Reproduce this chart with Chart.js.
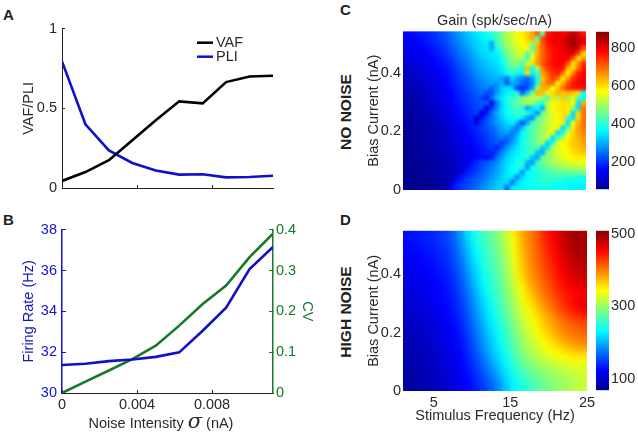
<!DOCTYPE html>
<html>
<head>
<meta charset="utf-8">
<title>Gain panels</title>
<script src="https://cdn.jsdelivr.net/npm/chart.js@4/dist/chart.umd.min.js"></script>
<style>
  html, body { margin: 0; padding: 0; background: #fff; }
  #page { position: relative; width: 638px; height: 432px; overflow: hidden; font-family: "Liberation Sans", Arial, sans-serif; color: #222; }
  #page canvas { position: absolute; filter: blur(0.4px); }
  .note { position: absolute; white-space: nowrap; line-height: 1; }
  .letter { font-weight: bold; font-size: 15px; }
  .side { font-weight: bold; font-size: 15.5px; transform: translate(-50%, -50%) rotate(-90deg); }
  .xname { font-size: 14.5px; transform: translateX(-50%); color: #2a2a2a; }
  .xname i { font-family: "DejaVu Serif", serif; font-size: 21px; line-height: 14px; }
</style>
</head>
<body>
<div id="page">
  <canvas id="chartA" style="left:20px;top:12px"></canvas>
  <canvas id="chartB" style="left:20px;top:212px"></canvas>
  <canvas id="chartC" style="left:365px;top:12px"></canvas>
  <canvas id="barC" style="left:596px;top:21px"></canvas>
  <canvas id="chartD" style="left:365px;top:220px"></canvas>
  <canvas id="barD" style="left:596px;top:220px"></canvas>
  <div class="note letter" style="left:3px;top:7px">A</div>
  <div class="note letter" style="left:3px;top:212px">B</div>
  <div class="note letter" style="left:340px;top:2px">C</div>
  <div class="note letter" style="left:340px;top:212px">D</div>
  <div class="note side" style="left:346px;top:112px">NO NOISE</div>
  <div class="note side" style="left:346px;top:312px">HIGH NOISE</div>
  <div class="note xname" style="left:161px;top:414px">Noise Intensity <i>σ</i> (nA)</div>
</div>
<script>
// noise intensity samples shared by panels A and B
var noiseLevels = [0, 0.00125, 0.0025, 0.00375, 0.005, 0.00625, 0.0075, 0.00875, 0.01, 0.01125];
var vafValues = [0.044, 0.10, 0.174, 0.30, 0.425, 0.544, 0.531, 0.665, 0.70, 0.705];
var pliValues = [0.795, 0.40, 0.236, 0.157, 0.11, 0.084, 0.086, 0.067, 0.069, 0.077];
var firingRates = [31.37, 31.43, 31.56, 31.64, 31.77, 31.99, 33.05, 34.18, 36.07, 37.15];
var cvValues = [0, 0.028, 0.055, 0.083, 0.116, 0.165, 0.218, 0.263, 0.333, 0.39];

// tick values and labels
var noiseTicks = [0, 0.004, 0.008];
var noiseTickLabels = ['0', '0.004', '0.008'];
var vafTicks = [0, 0.5, 1];
var vafTickLabels = ['0', '0.5', '1'];
var rateTicks = [30, 32, 34, 36, 38];
var rateTickLabels = ['30', '32', '34', '36', '38'];
var cvTicks = [0, 0.1, 0.2, 0.3, 0.4];
var cvTickLabels = ['0', '0.1', '0.2', '0.3', '0.4'];
var biasTicks = [0, 0.2, 0.4];
var biasTickLabels = ['0', '0.2', '0.4'];
var freqTicks = [5, 15, 25];
var freqTickLabels = ['5', '15', '25'];
var gainTicksC = [200, 400, 600, 800];
var gainTicksD = [100, 300, 500];

// panel C gain, rows run from top (high bias) to bottom, columns low to high frequency
var gainNoNoise = [
  [165,170,175,180,185,195,205,220,235,255,275,295,315,335,350,365,380,400,430,470,510,540,560,585,610,650,700,440,760,780,800,780,800,830,800,760],
  [155,160,165,170,180,190,200,215,230,245,265,285,305,325,340,355,370,385,410,470,500,530,560,580,610,640,430,720,770,790,790,800,830,850,830,800],
  [150,155,160,165,175,185,195,205,220,240,260,280,295,315,330,345,355,290,420,460,500,530,555,575,590,480,620,710,760,780,790,800,840,860,830,790],
  [145,150,155,160,165,175,185,195,210,230,250,265,285,305,325,340,350,300,380,430,480,510,540,560,570,430,640,700,750,770,790,790,810,840,810,720],
  [135,140,145,155,160,170,180,190,200,220,240,260,275,295,315,330,340,350,360,410,460,500,520,550,430,530,640,700,740,770,780,790,810,800,730,600],
  [125,130,140,145,155,160,170,180,195,210,230,250,265,285,305,320,335,345,350,390,440,480,510,500,420,560,650,700,740,770,780,790,790,720,590,650],
  [120,125,130,140,145,155,165,175,185,200,220,240,255,275,295,310,325,335,345,370,420,460,480,420,520,600,660,710,750,770,780,780,720,600,670,740],
  [110,115,125,130,140,145,155,165,175,190,210,230,245,265,285,300,315,325,335,350,400,440,430,400,620,380,500,680,730,760,770,760,640,600,690,760],
  [105,110,115,125,130,140,150,160,170,185,200,220,235,255,275,290,305,315,325,340,380,400,380,360,600,360,420,650,700,740,760,690,580,680,760,780],
  [100,105,110,115,125,135,145,155,165,180,195,210,225,245,265,280,295,305,310,300,260,340,300,270,250,300,380,620,680,730,700,590,650,740,770,790],
  [95,100,105,110,120,130,140,150,160,175,190,205,220,235,255,270,285,295,280,310,230,300,290,250,230,270,400,640,690,690,590,640,720,760,780,790],
  [90,95,100,105,115,125,135,145,155,170,185,200,215,230,245,260,270,240,280,330,350,330,215,190,220,300,500,650,640,560,620,700,740,760,770,770],
  [85,90,95,100,110,120,130,140,150,165,180,195,205,220,235,250,225,230,290,330,360,380,400,240,330,470,640,620,550,600,640,620,640,620,600,380],
  [80,85,90,95,105,115,125,135,145,160,175,190,200,215,230,215,195,250,320,350,380,400,430,470,500,520,520,480,420,600,500,620,480,590,420,370],
  [80,80,85,90,100,110,120,130,140,155,170,185,195,210,220,235,240,130,260,340,380,420,450,480,510,500,420,400,520,560,590,600,600,570,340,640],
  [75,80,85,90,100,105,115,125,135,150,165,180,190,205,220,220,125,210,270,340,380,400,430,400,300,340,380,300,530,560,590,600,590,480,340,680],
  [75,75,80,85,95,100,110,120,130,145,160,175,185,200,210,130,180,250,300,340,370,390,410,420,400,340,280,440,510,550,580,600,590,340,600,690],
  [70,75,80,85,90,100,105,115,125,140,155,170,180,195,125,170,220,250,290,330,360,380,390,360,280,270,440,480,520,550,580,600,400,340,600,690],
  [70,70,75,80,90,95,105,110,120,135,150,165,175,185,130,200,230,260,290,310,340,360,310,220,300,420,450,490,520,550,570,590,340,560,640,690],
  [70,70,75,80,85,90,100,105,115,130,145,155,170,180,195,210,225,240,270,300,320,300,250,320,400,430,470,500,530,560,580,340,420,590,650,680],
  [68,70,75,80,85,90,95,105,110,125,140,150,165,175,190,200,215,235,255,280,290,260,290,370,410,440,470,500,530,560,340,380,560,610,650,670],
  [65,70,70,75,80,90,95,100,110,120,135,145,160,170,180,195,210,225,240,265,240,270,320,370,400,430,470,500,530,340,430,500,570,610,640,660],
  [65,68,70,75,80,85,90,100,105,115,130,140,155,165,175,190,200,220,235,215,240,290,330,380,410,440,470,500,330,370,540,570,590,620,630,650],
  [65,65,70,72,78,85,90,95,105,110,125,135,150,160,170,185,195,210,190,230,280,320,350,380,400,420,440,330,350,520,550,570,590,610,620,640],
  [65,65,68,70,75,80,85,95,100,110,120,130,145,155,165,180,190,190,210,270,310,340,360,380,400,420,320,300,480,510,540,560,580,600,610,620],
  [62,65,65,70,75,80,85,90,95,105,115,130,140,150,160,175,170,190,250,290,330,350,370,390,410,320,300,450,480,510,530,550,570,580,590,590],
  [62,62,65,68,72,78,82,88,95,100,115,125,135,165,195,215,230,250,270,310,340,360,380,400,310,290,420,450,480,500,520,530,540,550,550,560],
  [60,62,65,68,70,75,80,85,90,100,110,120,150,185,205,225,245,265,290,320,350,370,390,380,280,390,410,430,450,470,480,490,500,510,510,520],
  [60,60,62,65,70,72,78,85,90,95,105,125,180,200,215,235,255,270,295,320,350,370,370,270,370,380,400,410,420,430,440,450,450,460,460,470],
  [60,60,62,65,68,72,75,82,88,95,130,180,200,215,230,245,265,285,305,330,350,350,260,340,370,380,390,400,410,420,420,410,400,400,390,390],
  [60,60,60,62,65,70,72,78,85,100,175,195,210,225,240,255,275,295,315,335,345,245,340,360,370,380,390,400,400,390,380,380,370,370,370,370],
  [60,60,60,60,62,65,70,75,80,160,190,205,220,235,250,270,290,310,330,340,240,350,360,365,370,375,380,385,385,380,375,370,365,365,360,360]
];

// panel D gain, same orientation
var gainHighNoise = [
  [130,132,136,140,145,152,165,190,222,245,262,278,292,320,350,378,398,415,440,455,470,485,495,490],
  [127,130,134,138,143,150,162,185,215,240,258,275,290,315,345,375,396,412,436,452,468,482,492,490],
  [124,127,131,135,140,147,158,180,208,234,252,270,286,310,342,372,394,410,432,448,464,478,490,492],
  [120,123,127,131,136,143,154,175,202,228,248,266,282,306,338,368,392,408,428,445,460,474,484,488],
  [117,120,124,128,133,140,150,170,196,222,244,262,279,302,334,364,390,405,424,440,456,470,480,484],
  [113,117,120,125,130,137,146,165,190,216,240,258,275,298,330,360,386,402,420,436,452,466,475,480],
  [110,114,118,122,127,134,143,160,184,210,235,254,272,294,324,354,380,398,414,430,446,458,468,472],
  [107,111,115,119,125,131,140,156,178,204,230,250,268,290,318,346,372,392,408,424,440,452,460,464],
  [104,108,112,116,122,129,137,152,173,198,224,244,264,286,312,338,362,384,402,418,432,444,452,456],
  [101,105,109,113,119,126,134,149,168,192,218,238,260,282,306,332,354,374,394,410,428,442,455,462],
  [98,102,106,110,116,123,131,145,164,187,212,232,254,276,300,324,346,364,384,400,418,432,445,455],
  [95,99,103,107,113,120,128,141,160,182,206,228,248,270,294,316,336,354,372,388,404,418,428,434],
  [92,96,100,104,110,117,125,137,155,177,200,222,242,264,288,310,330,348,366,382,394,406,414,418],
  [90,94,98,102,108,114,122,133,151,172,195,216,237,258,282,304,322,340,356,372,386,398,406,410],
  [88,91,95,99,105,112,119,130,147,167,190,210,232,252,276,298,316,330,346,360,374,386,394,398],
  [86,89,93,97,103,110,117,127,143,162,184,204,226,247,270,292,308,322,336,346,356,368,376,380],
  [84,87,91,95,101,107,114,125,139,157,178,198,220,240,262,284,298,312,324,334,342,348,352,354],
  [82,85,89,93,99,105,112,122,135,150,170,190,212,234,254,274,288,300,310,318,324,330,334,336],
  [80,83,87,91,97,103,110,119,130,145,162,180,202,226,244,262,276,286,296,304,310,316,322,326],
  [79,81,85,90,96,101,108,116,127,140,155,172,192,218,238,252,266,276,286,294,300,306,314,320],
  [78,80,85,90,95,100,108,115,125,135,150,165,185,210,232,245,258,270,280,290,300,305,315,320]
];

var INK = '#2a2a2a';
var BLUE = '#1414c8';
var GREEN = '#17792a';
var FONT = { family: '"Liberation Sans", Arial, sans-serif', size: 14.5 };

// jet colormap, t in 0..1
var jetStops = [
  [0, [0, 0, 143]], [0.125, [0, 0, 255]], [0.375, [0, 255, 255]],
  [0.625, [255, 255, 0]], [0.875, [255, 0, 0]], [1, [128, 0, 0]]
];
function jet(t) {
  t = Math.max(0, Math.min(1, t));
  for (var i = 1; i < jetStops.length; i++) {
    if (t <= jetStops[i][0]) {
      var a = jetStops[i - 1], b = jetStops[i];
      var f = (t - a[0]) / (b[0] - a[0]);
      return 'rgb(' + [0, 1, 2].map(function(k) { return Math.round(a[1][k] + (b[1][k] - a[1][k]) * f); }).join(',') + ')';
    }
  }
  return 'rgb(128,0,0)';
}

// fixed size for an axis so the plot areas land where they should
function fixWidth(w) { return function(scale) { scale.width = w; }; }
function fixHeight(h) { return function(scale) { scale.height = h; }; }
function useTicks(values) {
  return function(scale) { scale.ticks = values.map(function(v) { return { value: v }; }); };
}
function useLabels(labels) {
  return function(value, index) { return labels[index]; };
}
function sizeCanvas(id, w, h) {
  var c = document.getElementById(id);
  c.width = w; c.height = h;
  c.style.width = w + 'px'; c.style.height = h + 'px';
  return c;
}

// small legend inside panel A, uses the dataset labels and colours
var cornerLegend = {
  id: 'cornerLegend',
  afterDatasetsDraw: function(chart) {
    var ctx = chart.ctx, area = chart.chartArea;
    chart.data.datasets.forEach(function(ds, i) {
      var y = area.top + 14 + i * 14;
      ctx.save();
      ctx.strokeStyle = ds.borderColor;
      ctx.lineWidth = 2.5;
      ctx.beginPath();
      ctx.moveTo(area.left + 135, y);
      ctx.lineTo(area.left + 151, y);
      ctx.stroke();
      ctx.fillStyle = INK;
      ctx.font = '14.5px ' + FONT.family;
      ctx.textBaseline = 'middle';
      ctx.fillText(ds.label, area.left + 154, y);
      ctx.restore();
    });
  }
};

// softens the cell edges of a heat map, limited to the plot area
function softenCells(radius) {
  return {
    id: 'softenCells',
    afterDatasetsDraw: function(chart) {
      var ctx = chart.ctx, area = chart.chartArea;
      ctx.save();
      ctx.beginPath();
      ctx.rect(area.left, area.top, area.right - area.left, area.bottom - area.top);
      ctx.clip();
      ctx.filter = 'blur(' + radius + 'px)';
      ctx.drawImage(ctx.canvas, 0, 0);
      ctx.restore();
    }
  };
}

function lineDataset(label, values, color, axis) {
  return {
    label: label,
    data: values.map(function(v, i) { return { x: noiseLevels[i], y: v }; }),
    borderColor: color,
    borderWidth: 2.6,
    pointRadius: 0,
    tension: 0,
    yAxisID: axis
  };
}

// panel A
new Chart(sizeCanvas('chartA', 300, 196), {
  type: 'line',
  data: { datasets: [lineDataset('VAF', vafValues, '#000000', 'y'), lineDataset('PLI', pliValues, '#1010c8', 'y')] },
  plugins: [cornerLegend],
  options: {
    responsive: false, animation: false, events: [],
    layout: { padding: { top: 16, right: 47, left: 0, bottom: 0 } },
    plugins: { legend: { display: false }, tooltip: { enabled: false } },
    scales: {
      x: {
        type: 'linear', min: 0, max: 0.01125,
        afterFit: fixHeight(20), afterBuildTicks: useTicks(noiseTicks),
        grid: { drawOnChartArea: false, tickLength: -3, tickColor: '#222' },
        border: { color: '#222', width: 1 },
        ticks: { display: false }
      },
      y: {
        min: 0, max: 1,
        afterFit: fixWidth(42), afterBuildTicks: useTicks(vafTicks),
        grid: { drawOnChartArea: false, tickLength: -3, tickColor: '#222' },
        border: { color: '#222', width: 1 },
        title: { display: true, text: 'VAF/PLI', color: INK, font: FONT, padding: 0 },
        ticks: { callback: useLabels(vafTickLabels), color: INK, font: FONT, padding: 8, autoSkip: false }
      }
    }
  }
});

// panel B
new Chart(sizeCanvas('chartB', 296, 204), {
  type: 'line',
  data: { datasets: [lineDataset('Firing Rate', firingRates, '#1010c8', 'y'), lineDataset('CV', cvValues, GREEN, 'y1')] },
  options: {
    responsive: false, animation: false, events: [],
    layout: { padding: { top: 15, right: 0, left: 0, bottom: 0 } },
    plugins: { legend: { display: false }, tooltip: { enabled: false } },
    scales: {
      x: {
        type: 'linear', min: 0, max: 0.01125,
        afterFit: fixHeight(23), afterBuildTicks: useTicks(noiseTicks),
        grid: { drawOnChartArea: false, tickLength: -3, tickColor: '#222' },
        border: { color: '#222', width: 1 },
        ticks: { callback: useLabels(noiseTickLabels), color: INK, font: FONT, padding: 6, maxRotation: 0, autoSkip: false }
      },
      y: {
        min: 30, max: 38,
        afterFit: fixWidth(42), afterBuildTicks: useTicks(rateTicks),
        grid: { drawOnChartArea: false, tickLength: -4, tickColor: BLUE },
        border: { color: BLUE, width: 1.5 },
        title: { display: true, text: 'Firing Rate (Hz)', color: BLUE, font: FONT, padding: 0 },
        ticks: { callback: useLabels(rateTickLabels), color: BLUE, font: FONT, padding: 9, autoSkip: false }
      },
      y1: {
        position: 'right', min: 0, max: 0.4,
        afterFit: fixWidth(43), afterBuildTicks: useTicks(cvTicks),
        grid: { drawOnChartArea: false, tickLength: -4, tickColor: GREEN },
        border: { color: GREEN, width: 1.5 },
        title: { display: true, text: 'CV', color: GREEN, font: FONT, padding: 0 },
        ticks: { callback: useLabels(cvTickLabels), color: GREEN, font: FONT, padding: 7, autoSkip: false }
      }
    }
  }
});

// one scatter point per heat map cell, square markers sized to just overlap
function heatDataset(rows, maxBias, low, high, radius) {
  var points = [], colors = [];
  rows.forEach(function(row, j) {
    row.forEach(function(v, i) {
      points.push({ x: 1 + 24 * (i + 0.5) / row.length, y: maxBias * (1 - (j + 0.5) / rows.length) });
      colors.push(jet((v - low) / (high - low)));
    });
  });
  return {
    data: points, showLine: false, pointStyle: 'rect', pointRadius: radius,
    pointBackgroundColor: colors, pointBorderWidth: 0, clip: 0
  };
}

function heatOptions(maxBias, showFreq, padding, titleText) {
  return {
    responsive: false, animation: false, events: [],
    layout: { padding: padding },
    plugins: {
      legend: { display: false }, tooltip: { enabled: false },
      title: { display: !!titleText, text: titleText, color: INK, fullSize: false, font: { family: FONT.family, size: 14.5, weight: 'normal' }, padding: { top: 0, bottom: 2 } }
    },
    scales: {
      x: {
        type: 'linear', min: 1, max: 25, display: showFreq,
        afterFit: fixHeight(showFreq ? 34 : 0), afterBuildTicks: useTicks(freqTicks),
        grid: { display: false, drawTicks: false }, border: { display: false },
        title: { display: true, text: 'Stimulus Frequency (Hz)', color: INK, font: FONT, padding: 0 },
        ticks: { callback: useLabels(freqTickLabels), color: INK, font: FONT, padding: 3, maxRotation: 0, autoSkip: false }
      },
      y: {
        min: 0, max: maxBias,
        afterFit: fixWidth(38), afterBuildTicks: useTicks(biasTicks),
        grid: { display: false, drawTicks: false }, border: { display: false },
        title: { display: true, text: 'Bias Current (nA)', color: INK, font: FONT, padding: 0 },
        ticks: { callback: useLabels(biasTickLabels), color: INK, font: FONT, padding: 2, autoSkip: false }
      }
    }
  };
}

// colour bar: a single floating bar filled with the colormap
function colorBar(id, height, padding, low, high, tickValues) {
  new Chart(sizeCanvas(id, 42, height), {
    type: 'bar',
    data: {
      labels: ['gain'],
      datasets: [{
        data: [[low, high]], barPercentage: 1, categoryPercentage: 1,
        backgroundColor: function(ctx) {
          var area = ctx.chart.chartArea;
          if (!area) return '#000';
          var g = ctx.chart.ctx.createLinearGradient(0, area.bottom, 0, area.top);
          jetStops.forEach(function(s) { g.addColorStop(s[0], jet(s[0])); });
          return g;
        }
      }]
    },
    options: {
      responsive: false, animation: false, events: [],
      layout: { padding: padding },
      plugins: { legend: { display: false }, tooltip: { enabled: false } },
      scales: {
        x: { display: false },
        y: {
          position: 'right', min: low, max: high,
          afterFit: fixWidth(29), afterBuildTicks: useTicks(tickValues),
          grid: { display: false, drawTicks: false }, border: { display: false },
          ticks: {
            callback: function(v) { return String(v); },
            color: INK, font: FONT, padding: 2, autoSkip: false
          }
        }
      }
    }
  });
}

var LOW_C = 60, HIGH_C = 883, LOW_D = 70, HIGH_D = 508;

new Chart(sizeCanvas('chartC', 264, 195), {
  type: 'scatter',
  data: { datasets: [heatDataset(gainNoNoise, 0.54, LOW_C, HIGH_C, 3.9)] },
  plugins: [softenCells(1.4)],
  options: heatOptions(0.54, false, { top: 0, right: 43, left: 0, bottom: 17 }, 'Gain (spk/sec/nA)')
});
colorBar('barC', 179, { top: 10, bottom: 10 }, LOW_C, HIGH_C, gainTicksC);

new Chart(sizeCanvas('chartD', 264, 205), {
  type: 'scatter',
  data: { datasets: [heatDataset(gainHighNoise, 0.55, LOW_D, HIGH_D, 5.8)] },
  plugins: [softenCells(3)],
  options: heatOptions(0.55, true, { top: 10, right: 42, left: 0, bottom: 0 }, '')
});
colorBar('barD', 181, { top: 10, bottom: 10 }, LOW_D, HIGH_D, gainTicksD);
</script>
</body>
</html>
